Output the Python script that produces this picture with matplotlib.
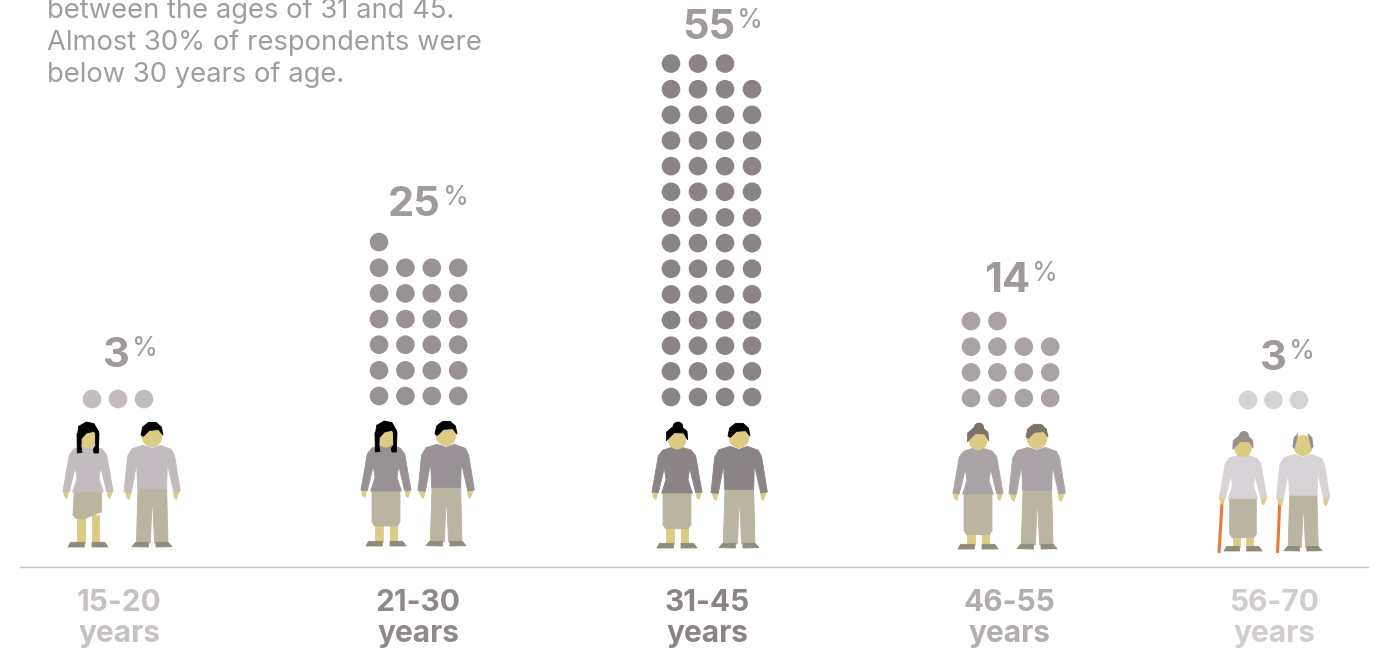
'''

Age of respondents, dot pictogram with little people standing on a base line

'''

import matplotlib
matplotlib.use("Agg")
import matplotlib.pyplot as plt
from matplotlib.patches import Polygon, Ellipse, Circle

plt.rcParams['font.family'] = ['Inter', 'Liberation Sans', 'DejaVu Sans']

# data
age_labels = ["15-20", "21-30", "31-45", "46-55", "56-70"]
percents = [3, 25, 55, 14, 3]
intro_lines = ["between the ages of 31 and 45.", "Almost 30% of respondents were", "below 30 years of age."]

# look of every group
dot_colors = ["#c2bcc0", "#989195", "#8a8487", "#a9a3a8", "#d6d2d5"]
shirt_colors = ["#c2bcc0", "#989195", "#8a8487", "#a9a3a8", "#d6d2d5"]
label_colors = ["#c6c2c4", "#8f898d", "#8a8487", "#b2adb0", "#d0cccf"]
percent_color = "#a09a9e"
dot_xs = [92, 379, 671, 971, 1248]
dot_bottoms = [399, 396, 397, 398, 400]
dot_steps = [26, 26.4, 27, 26.4, 25.5]
woman_xs = [88, 386, 677, 978, 1243]
man_xs = [152, 446, 739, 1037, 1303]
feet_ys = [547, 546, 548, 549, 551]
scales = [1, 1, 1, 1, 0.95]
skirt_hems = [-84, -60, -58, -43, -42]
label_xs = [119.5, 418, 707.5, 1009, 1274.5]
percent_rights = [130, 441, 735, 1030, 1287]
percent_bases = [367, 216, 39, 292, 370]
woman_hair = ["long", "long", "bun", "bun", "bun"]
hair_colors = ["#000000", "#000000", "#000000", "#7b7268", "#97908a"]

SKIN = "#dccb85"
TROUSER = "#bab5a0"
SHOE = "#8f8c7c"
CANE = "#e8793a"

# shapes in 3x pixels, x from the centre of the body, y from the floor
W_BODY = [(-15, -302), (-42, -294), (-56, -277), (-75, -168), (-56, -166), (-38, -240), (-33, -205), (-46, -165), (46, -165), (33, -205), (38, -240), (56, -166), (75, -168), (56, -277), (42, -294), (15, -302), (0, -295)]
W_HANDS = [[(-75, -170), (-57, -170), (-63, -146), (-69, -150)], [(57, -170), (75, -170), (66, -146), (60, -150)]]
W_LEGS = [[(-33, -95), (-10, -95), (-10, -12), (-33, -12)], [(11, -95), (33, -95), (33, -12), (11, -12)]]
W_SHOES = [[(-60, 0), (-52, -14), (-11, -14), (-11, 0)], [(12, -14), (50, -14), (60, 0), (12, 0)]]
W_STRANDS = [[(-33, -340), (-20, -340), (-21, -300), (-18, -284), (-32, -282)], [(33, -340), (22, -340), (23, -305), (16, -292), (18, -282), (31, -282)]]
W_FRINGE = [(-32, -332), (-28, -362), (-5, -375), (18, -370), (32, -345), (30, -330), (18, -347), (-5, -342), (-20, -325)]
W_CAP = [(-32, -322), (-31, -348), (-12, -364), (14, -364), (30, -350), (32, -325), (20, -345), (-8, -346)]

M_BODY = [(-27, -305), (-60, -295), (-73, -273), (-84, -166), (-62, -164), (-46, -250), (-43, -176), (44, -176), (46, -250), (65, -166), (85, -168), (68, -273), (58, -293), (25, -305), (0, -296)]
M_HANDS = [[(-82, -170), (-62, -168), (-68, -143), (-75, -148)], [(64, -170), (83, -170), (73, -143), (67, -148)]]
M_PANTS = [(-42, -178), (44, -178), (48, -12), (8, -12), (1, -150), (-5, -12), (-47, -12)]
M_SHOES = [[(-60, -1), (-49, -14), (-11, -14), (-11, 0)], [(12, -14), (48, -14), (60, -1), (12, 0)]]
M_HAIR = [(-33, -336), (-28, -360), (-10, -374), (12, -374), (28, -360), (33, -336), (20, -352), (-8, -350), (-26, -332)]
M_TUFTS = [[(-32, -330), (-28, -358), (-16, -370), (-21, -350), (-27, -325)], [(32, -330), (28, -358), (16, -370), (21, -350), (27, -325)]]


def skirt(i):
	hem = skirt_hems[i]
	if i == 0:
		return [(-41, -170), (41, -170), (41, hem - 22), (-14, hem), (-37, hem - 2), (-45, hem - 12)]
	return [(-42, -170), (42, -170), (42, hem - 12), (34, hem), (-34, hem), (-42, hem - 12)]


def shape(ax, points, x, y, s, color, z=3):
	pts = [(x + px * s / 3, y + py * s / 3) for px, py in points]
	ax.add_patch(Polygon(pts, closed=True, facecolor=color, edgecolor=color, lw=0.6, joinstyle="round", zorder=z))


def blob(ax, x, y, s, px, py, rx, ry, color, z):
	ax.add_patch(Ellipse((x + px * s / 3, y + py * s / 3), 2 * rx * s / 3, 2 * ry * s / 3, facecolor=color, edgecolor="none", zorder=z))


def woman(ax, x, y, i):
	s = scales[i]
	for leg in W_LEGS:
		shape(ax, leg, x, y, s, SKIN, 2)
	for hand in W_HANDS:
		shape(ax, hand, x, y, s, SKIN, 2)
	shape(ax, skirt(i), x, y, s, TROUSER)
	for shoe in W_SHOES:
		shape(ax, shoe, x, y, s, SHOE)
	shape(ax, W_BODY, x, y, s, shirt_colors[i], 4)
	blob(ax, x, y, s, 0, -326, 28, 30, SKIN, 5)
	if woman_hair[i] == "long":
		for strand in W_STRANDS:
			shape(ax, strand, x, y, s, hair_colors[i], 6)
		shape(ax, W_FRINGE, x, y, s, hair_colors[i], 6)
	else:
		shape(ax, W_CAP, x, y, s, hair_colors[i], 6)
		blob(ax, x, y, s, 3, -366, 15, 13, hair_colors[i], 6)


def man(ax, x, y, i):
	s = scales[i]
	for hand in M_HANDS:
		shape(ax, hand, x, y, s, SKIN, 2)
	shape(ax, M_PANTS, x, y, s, TROUSER)
	for shoe in M_SHOES:
		shape(ax, shoe, x, y, s, SHOE)
	shape(ax, M_BODY, x, y, s, shirt_colors[i], 4)
	blob(ax, x, y, s, 0, -333, 31, 33, SKIN, 5)
	if i == 4:
		for tuft in M_TUFTS:
			shape(ax, tuft, x, y, s, hair_colors[i], 6)
	else:
		shape(ax, M_HAIR, x, y, s, hair_colors[i], 6)


def dots(ax, i):
	# one dot per percent, four in a row, spare ones on top from the left
	for n in range(percents[i]):
		col = n % 4
		row = n // 4
		ax.add_patch(Circle((dot_xs[i] + col * dot_steps[i], dot_bottoms[i] - row * 25.65), 9.3, facecolor=dot_colors[i], edgecolor="none", zorder=3))


fig = plt.figure(figsize=(13.84, 6.53), dpi=100)
ax = fig.add_axes([0, 0, 1, 1])
ax.set_xlim(0, 1384)
ax.set_ylim(653, 0)
ax.axis('off')

for i, line in enumerate(intro_lines):
	ax.text(47, 17.5 + i * 32, line, fontsize=19.7, color="#a19ca0", va="baseline", ha="left", clip_on=False)

ax.plot([20, 1368], [567, 567], color="#c9c9c9", lw=1)

for i in range(len(percents)):
	dots(ax, i)
	woman(ax, woman_xs[i], feet_ys[i], i)
	man(ax, man_xs[i], feet_ys[i], i)
	ax.text(percent_rights[i], percent_bases[i], str(percents[i]), fontsize=30, fontweight="bold", color=percent_color, va="baseline", ha="right")
	ax.text(percent_rights[i] + 2, percent_bases[i] - 11, "%", fontsize=19, color=percent_color, va="baseline", ha="left")
	ax.text(label_xs[i], 611, age_labels[i], fontsize=21.5, fontweight="bold", color=label_colors[i], va="baseline", ha="center")
	ax.text(label_xs[i], 642, "years", fontsize=21.5, fontweight="bold", color=label_colors[i], va="baseline", ha="center")

# walking sticks of the oldest pair
ax.plot([woman_xs[4] - 21, woman_xs[4] - 24], [503, 553], color=CANE, lw=2.2, zorder=1, solid_capstyle="butt")
ax.plot([man_xs[4] - 23, man_xs[4] - 25.5], [498, 553], color=CANE, lw=2.2, zorder=1, solid_capstyle="butt")

fig.savefig("out.png", dpi=100)
